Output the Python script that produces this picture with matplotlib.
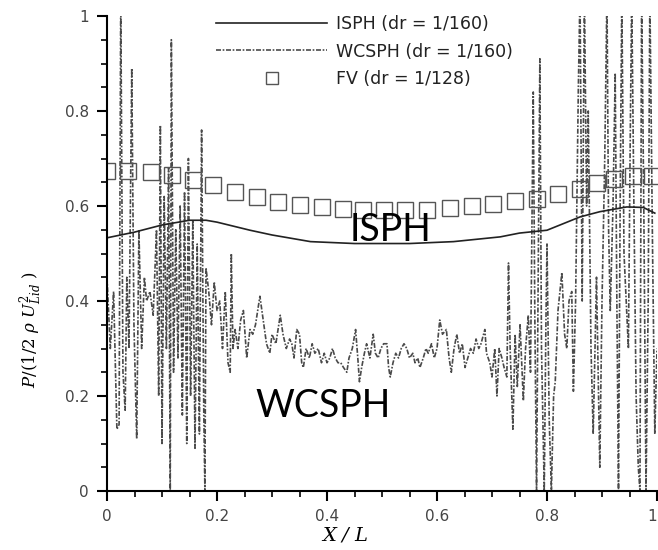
import matplotlib
matplotlib.use("Agg")
import matplotlib.pyplot as plt
from matplotlib.lines import Line2D
from matplotlib.ticker import MultipleLocator, FuncFormatter

plt.rcParams["mathtext.fontset"] = "dejavuserif"

# ISPH (dr = 1/160), smooth solid curve
isph_x = [0.0, 0.05, 0.10, 0.15, 0.18, 0.20, 0.26, 0.30, 0.37, 0.45, 0.55,
          0.63, 0.715, 0.75, 0.80, 0.86, 0.896, 0.945, 0.975, 0.996]
isph_y = [0.533, 0.545, 0.560, 0.570, 0.570, 0.566, 0.549, 0.539, 0.525, 0.521, 0.521,
          0.525, 0.535, 0.543, 0.549, 0.577, 0.588, 0.598, 0.597, 0.585]

# WCSPH (dr = 1/160), noisy dash-dot curve
wc_x = [0.000, 0.006, 0.012, 0.018, 0.022, 0.025, 0.029, 0.033, 0.036, 0.040,
        0.045, 0.049, 0.054, 0.058, 0.063, 0.068, 0.072, 0.078, 0.084, 0.090,
        0.094, 0.097, 0.100, 0.104, 0.108, 0.112, 0.115, 0.117, 0.121, 0.125,
        0.129, 0.133, 0.137, 0.141, 0.145, 0.148, 0.152, 0.156, 0.160, 0.164,
        0.168, 0.172, 0.176, 0.178, 0.180, 0.185, 0.190, 0.195, 0.200, 0.205,
        0.210, 0.215, 0.220, 0.224, 0.226, 0.229, 0.233, 0.238, 0.243, 0.248,
        0.254, 0.260, 0.265, 0.270, 0.278, 0.284, 0.290, 0.296, 0.300, 0.307,
        0.315, 0.320, 0.326, 0.332, 0.336, 0.340, 0.345, 0.350, 0.354, 0.357,
        0.362, 0.368, 0.373, 0.378, 0.384, 0.390, 0.395, 0.400, 0.405, 0.410,
        0.415, 0.420, 0.425, 0.430, 0.436, 0.440, 0.446, 0.452, 0.456, 0.459,
        0.463, 0.468, 0.472, 0.478, 0.484, 0.488, 0.493, 0.498, 0.503, 0.509,
        0.512, 0.515, 0.520, 0.525, 0.530, 0.535, 0.540, 0.545, 0.550, 0.556,
        0.560, 0.565, 0.569, 0.575, 0.580, 0.584, 0.590, 0.595, 0.600, 0.605,
        0.610, 0.617, 0.622, 0.626, 0.631, 0.636, 0.641, 0.646, 0.651, 0.656,
        0.661, 0.666, 0.671, 0.676, 0.680, 0.687, 0.690, 0.696, 0.700, 0.705,
        0.709, 0.713, 0.718, 0.722, 0.727, 0.730, 0.733, 0.738, 0.742, 0.746,
        0.751, 0.757, 0.761, 0.766, 0.770, 0.775, 0.778, 0.781, 0.785, 0.787,
        0.790, 0.795, 0.798, 0.800, 0.804, 0.808, 0.812, 0.815, 0.820, 0.827,
        0.832, 0.836, 0.840, 0.845, 0.848, 0.852, 0.857, 0.860, 0.864, 0.868,
        0.872, 0.875, 0.880, 0.884, 0.890, 0.896, 0.900, 0.905, 0.909, 0.912,
        0.915, 0.920, 0.924, 0.927, 0.930, 0.933, 0.936, 0.940, 0.944, 0.948,
        0.951, 0.954, 0.958, 0.962, 0.966, 0.969, 0.972, 0.976, 0.980, 0.984,
        0.987, 0.992, 0.996, 1.000]
wc_y = [0.45, 0.30, 0.42, 0.13, 0.14, 1.05, 0.25, 0.17, 0.45, 0.30,
        0.89, 0.35, 0.11, 0.55, 0.30, 0.45, 0.40, 0.42, 0.37, 0.55,
        0.20, 0.77, 0.10, 0.62, 0.30, 0.68, 0.00, 0.95, 0.25, 0.55,
        0.28, 0.60, 0.16, 0.63, 0.10, 0.70, 0.20, 0.57, 0.09, 0.52,
        0.12, 0.76, 0.16, 0.00, 0.47, 0.42, 0.35, 0.44, 0.38, 0.40,
        0.30, 0.42, 0.27, 0.25, 0.50, 0.30, 0.34, 0.30, 0.36, 0.38,
        0.28, 0.34, 0.33, 0.35, 0.41, 0.36, 0.31, 0.29, 0.33, 0.31,
        0.37, 0.33, 0.30, 0.32, 0.31, 0.28, 0.34, 0.33, 0.27, 0.26,
        0.30, 0.28, 0.31, 0.29, 0.30, 0.27, 0.29, 0.27, 0.28, 0.30,
        0.28, 0.27, 0.27, 0.26, 0.25, 0.28, 0.30, 0.34, 0.28, 0.23,
        0.26, 0.29, 0.31, 0.28, 0.33, 0.29, 0.28, 0.30, 0.31, 0.31,
        0.26, 0.24, 0.27, 0.29, 0.28, 0.30, 0.31, 0.30, 0.28, 0.29,
        0.27, 0.28, 0.26, 0.28, 0.30, 0.29, 0.31, 0.28, 0.30, 0.36,
        0.33, 0.34, 0.28, 0.25, 0.30, 0.33, 0.29, 0.31, 0.26, 0.28,
        0.30, 0.29, 0.32, 0.30, 0.31, 0.34, 0.29, 0.27, 0.24, 0.30,
        0.20, 0.30, 0.28, 0.26, 0.24, 0.48, 0.30, 0.13, 0.33, 0.22,
        0.35, 0.19, 0.30, 0.37, 0.25, 0.84, 0.35, 0.00, 0.60, 0.91,
        0.30, 0.00, 0.35, 0.52, 0.15, 0.00, 0.20, 0.23, 0.38, 0.46,
        0.33, 0.30, 0.40, 0.42, 0.21, 0.40, 0.85, 1.05, 0.40, 1.05,
        0.60, 0.80, 0.30, 0.12, 0.45, 0.05, 0.40, 0.70, 1.05, 0.55,
        0.38, 0.60, 0.88, 0.40, 0.00, 0.60, 1.05, 0.50, 0.40, 0.30,
        0.70, 1.05, 0.60, 0.20, 0.05, 0.00, 1.05, 0.60, 0.00, 0.40,
        1.05, 0.50, 0.12, 0.30]

# FV (dr = 1/128), open squares
fv_x = [0.000, 0.038, 0.080, 0.118, 0.156, 0.193, 0.233, 0.273, 0.311, 0.351,
        0.391, 0.429, 0.465, 0.504, 0.542, 0.582, 0.624, 0.664, 0.702, 0.742,
        0.782, 0.820, 0.860, 0.891, 0.922, 0.956, 0.991]
fv_y = [0.674, 0.674, 0.672, 0.665, 0.655, 0.644, 0.630, 0.618, 0.609, 0.602,
        0.597, 0.594, 0.592, 0.591, 0.591, 0.592, 0.595, 0.600, 0.605, 0.610,
        0.615, 0.625, 0.635, 0.648, 0.657, 0.664, 0.664]

tick_vals = [0, 0.2, 0.4, 0.6, 0.8, 1.0]
legend_labels = ["ISPH (dr = 1/160)", "WCSPH (dr = 1/160)", "FV (dr = 1/128)"]

fig = plt.figure(figsize=(6.58, 5.5), dpi=100)
ax = fig.add_axes([107 / 658, 59 / 550, 550 / 658, 475 / 550])

wc_style = (0, (3, 1, 1, 1))
ax.plot(wc_x, wc_y, color="#4a4a4a", lw=1.2, linestyle=wc_style)
ax.plot(isph_x, isph_y, color="#222222", lw=1.2)
ax.plot(fv_x, fv_y, linestyle="none", marker="s", markersize=11,
        mfc="none", mec="#555555", mew=1.0)

ax.set_xlim(0, 1)
ax.set_ylim(0, 1)
ax.spines["top"].set_visible(False)
ax.spines["right"].set_visible(False)
ax.spines["left"].set_linewidth(1.5)
ax.spines["bottom"].set_linewidth(1.5)
fmt = FuncFormatter(lambda v, _: f"{v:g}")
ax.set_xticks(tick_vals)
ax.set_yticks(tick_vals)
for axis in (ax.xaxis, ax.yaxis):
    axis.set_minor_locator(MultipleLocator(0.05))
    axis.set_major_formatter(fmt)
ax.tick_params(which="major", direction="out", length=7, width=1.5,
               labelsize=11, labelcolor="#444444", pad=6)
ax.tick_params(which="minor", direction="out", length=4, width=1.2)

# the last x label sits at the image edge; keep it inside
ax.xaxis.get_major_ticks()[-1].label1.set_horizontalalignment("right")

ax.set_xlabel("X / L", fontsize=14, family="DejaVu Serif", style="italic")
ax.xaxis.set_label_coords(0.433, -0.075)
ax.set_ylabel(r"$P/(1/2\ \rho\ U^2_{Lid}\ )$", fontsize=12)
ax.yaxis.set_label_coords(-0.115, 0.34)

handles = [Line2D([], [], color="#222222", lw=1.2),
           Line2D([], [], color="#4a4a4a", lw=1.2, linestyle=wc_style),
           Line2D([], [], linestyle="none", marker="s", markersize=9,
                  mfc="none", mec="#555555", mew=1.0)]
ax.legend(handles, legend_labels, loc="upper left", bbox_to_anchor=(0.17, 1.035),
          frameon=False, fontsize=12.5, handlelength=6.4, handletextpad=0.5,
          labelspacing=0.55, labelcolor="#222222")

ax.text(0.442, 0.526, "ISPH", fontsize=27, family="Lato", color="black")
ax.text(0.27, 0.156, "WCSPH", fontsize=27, family="Lato", color="black")

fig.savefig("out.png", dpi=100)
